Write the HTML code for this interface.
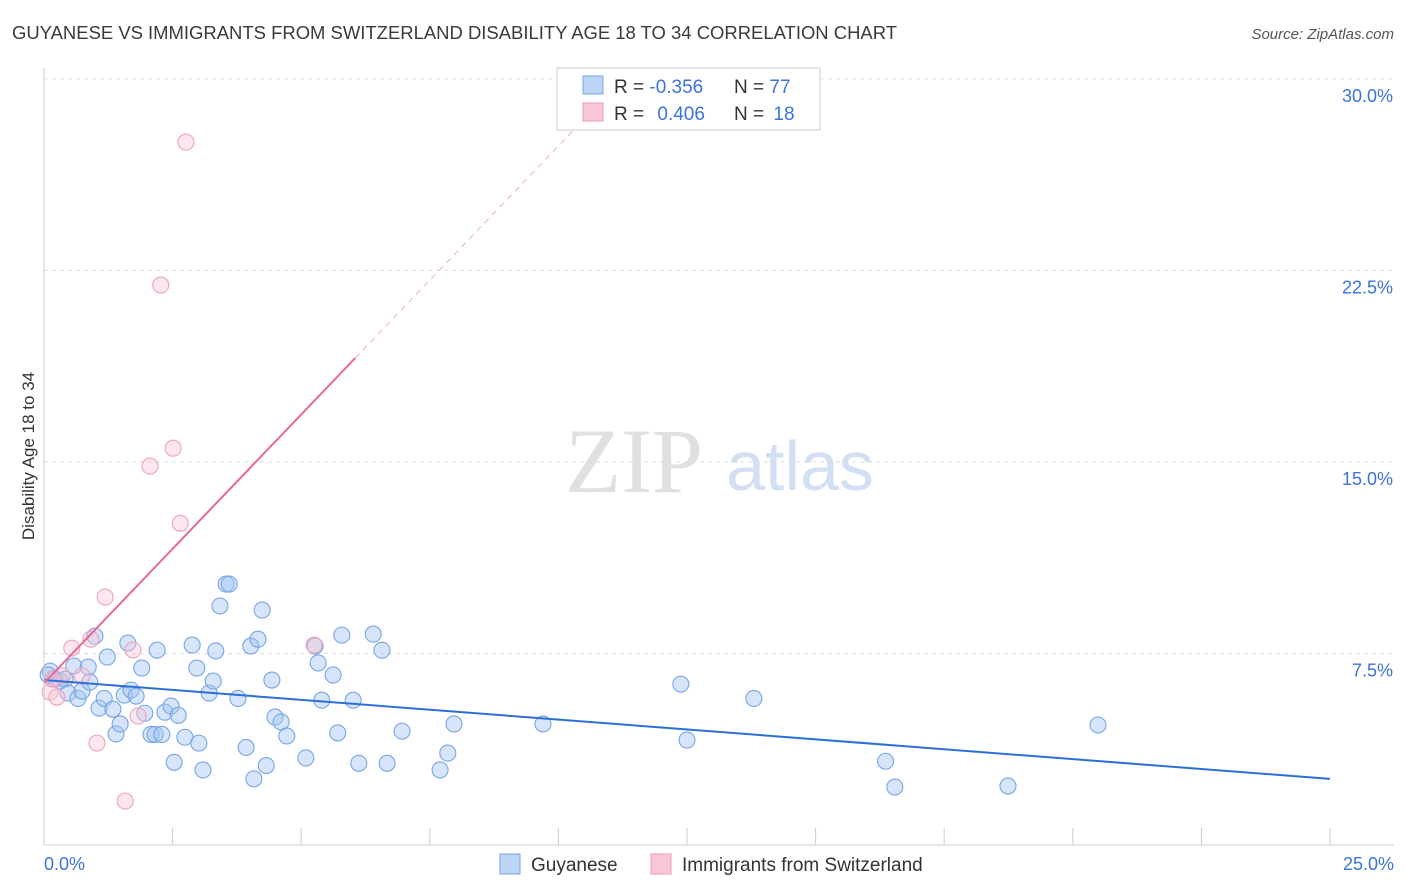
<!DOCTYPE html>
<html><head><meta charset="utf-8"><style>
body{margin:0;background:#fff;font-family:"Liberation Sans",sans-serif;}
svg{display:block}
</style></head><body>
<svg width="1406" height="892" id="c">
<text x="12" y="39" font-size="18" fill="#3a3a3a" textLength="885" lengthAdjust="spacingAndGlyphs">GUYANESE VS IMMIGRANTS FROM SWITZERLAND DISABILITY AGE 18 TO 34 CORRELATION CHART</text>
<text x="1394" y="39" font-size="15" fill="#555" font-style="italic" text-anchor="end">Source: ZipAtlas.com</text>
<text x="34" y="456" font-size="17" fill="#333" text-anchor="middle" transform="rotate(-90 34 456)">Disability Age 18 to 34</text>
<text x="634" y="492" font-size="92" fill="#e0e0e0" font-family="Liberation Serif,serif" text-anchor="middle">ZIP</text>
<text x="800" y="490" font-size="70" fill="#d3e0f3" text-anchor="middle">atlas</text>
<g id="grid"></g><g id="marks"></g>
<line x1="44" y1="68" x2="44" y2="845" stroke="#ccc"/>
<line x1="44" y1="845" x2="1394" y2="845" stroke="#ccc"/>
<text x="44" y="870" font-size="18" fill="#3b73d9">0.0%</text>
<text x="1394" y="870" font-size="18" fill="#3b73d9" text-anchor="end">25.0%</text>
<g>
<rect x="557" y="68" width="263" height="62" fill="#fff" stroke="#ccc"/>
<rect x="583" y="76" width="20" height="18" fill="#bcd4f5" stroke="#7aa6e8"/>
<rect x="583" y="103" width="20" height="18" fill="#f9c6d5" stroke="#ee9ab4"/>
<text x="614" y="93" font-size="19" fill="#333">R = <tspan fill="#3b73d9">-0.356</tspan></text>
<text x="734" y="93" font-size="19" fill="#333">N = <tspan fill="#3b73d9">77</tspan></text>
<text x="614" y="120" font-size="19" fill="#333">R = <tspan fill="#3b73d9" dx="8">0.406</tspan></text>
<text x="734" y="120" font-size="19" fill="#333">N = <tspan fill="#3b73d9" dx="4">18</tspan></text>
</g>
<g>
<rect x="500" y="854" width="20" height="20" fill="#bcd4f5" stroke="#7aa6e8"/>
<text x="531" y="871" font-size="19" fill="#333">Guyanese</text>
<rect x="651" y="854" width="20" height="20" fill="#f9c6d5" stroke="#ee9ab4"/>
<text x="682" y="871" font-size="19" fill="#333">Immigrants from Switzerland</text>
</g>
</svg>
<script>
const yTicks=[7.5,15,22.5,30];
const xTicks=[0,2.5,5,7.5,10,12.5,15,17.5,20,22.5,25];
const blueX=[0.12,0.21,0.31,0.08,0.41,0.47,0.58,0.66,0.74,0.86,0.89,0.99,1.07,1.17,1.23,1.34,1.40,1.48,1.56,1.63,1.69,1.79,1.90,1.96,2.08,2.16,2.20,2.29,2.35,2.47,2.53,2.61,2.74,2.88,2.97,3.01,3.09,3.21,3.29,3.34,3.42,3.54,3.60,3.77,3.93,4.02,4.08,4.16,4.24,4.32,4.43,4.49,4.61,4.72,5.09,5.27,5.33,5.40,5.62,5.71,5.79,6.01,6.12,6.40,6.57,6.67,6.96,7.70,7.85,7.97,9.70,12.38,12.50,13.80,16.36,16.54,18.74,20.49];
const blueY=[6.81,6.50,6.42,6.66,6.50,5.95,7.01,5.74,6.03,6.97,6.38,8.18,5.36,5.74,7.36,5.32,4.35,4.74,5.87,7.91,6.07,5.83,6.93,5.16,4.33,4.33,7.63,4.33,5.20,5.44,3.24,5.08,4.22,7.83,6.93,3.99,2.94,5.95,6.42,7.60,9.36,10.22,10.22,5.74,3.82,7.79,2.59,8.06,9.20,3.11,6.46,5.01,4.82,4.27,3.41,7.79,7.13,5.67,6.66,4.39,8.22,5.67,3.20,8.26,7.63,3.20,4.46,2.94,3.60,4.74,4.74,6.30,4.11,5.74,3.28,2.27,2.31,4.70];
const pinkX=[0.12,0.25,0.35,0.54,0.91,1.03,1.19,1.58,1.73,1.83,2.06,2.27,2.51,2.65,2.76,5.25,0.74,0.17];
const pinkY=[5.99,5.79,6.62,7.71,8.06,3.99,9.71,1.72,7.64,5.05,14.84,21.93,15.54,12.60,27.53,7.83,6.62,6.50];
const X=v=>44+v/25*1286, Y=v=>845-v/7.5*191.5;
const NS='http://www.w3.org/2000/svg';
const grid=document.getElementById('grid'), marks=document.getElementById('marks');
function mk(tag,attrs,parent){const e=document.createElementNS(NS,tag);for(const k in attrs)e.setAttribute(k,attrs[k]);parent.appendChild(e);return e;}
yTicks.forEach(t=>{
 const l=mk('line',{x1:44,x2:1394,y1:Y(t),y2:Y(t),stroke:'#ddd','stroke-dasharray':'4 4'},grid);
 
 
 const tx=mk('text',{x:1393,y:Y(t)+23,'font-size':18,fill:'#3b73d9','text-anchor':'end'},grid);
 tx.textContent=t.toFixed(1)+'%';
 
 
});
xTicks.forEach(t=>{
 const l=mk('line',{x1:X(t),x2:X(t),y1:828,y2:845,stroke:'#ccc'},grid);
 
 
});
blueX.forEach((x,i)=>{
 const c=mk('circle',{cx:X(x),cy:Y(blueY[i]),r:8,fill:'rgba(165,198,242,0.45)',stroke:'#78a5e4','stroke-width':1.1},marks);
 
 
});
pinkX.forEach((x,i)=>{
 const c=mk('circle',{cx:X(x),cy:Y(pinkY[i]),r:8,fill:'rgba(248,195,213,0.4)',stroke:'#eea3bb','stroke-width':1.1},marks);
 
 
});
const bl=mk('line',{x1:X(0),y1:Y(6.46),x2:X(25),y2:Y(2.59),stroke:'#2b6fd6','stroke-width':2},marks);


const b0=6.34, slope=(19.07-6.34)/6.05;
const pl=mk('line',{x1:X(0),y1:Y(b0),x2:X(6.05),y2:Y(19.07),stroke:'#e8689a','stroke-width':2},marks);


const pd=mk('line',{x1:X(6.05),y1:Y(19.07),x2:X(10.5),y2:Y(b0+slope*10.5),stroke:'#eab0c4','stroke-width':1,'stroke-dasharray':'6 5'},marks);


</script>
</body></html>
